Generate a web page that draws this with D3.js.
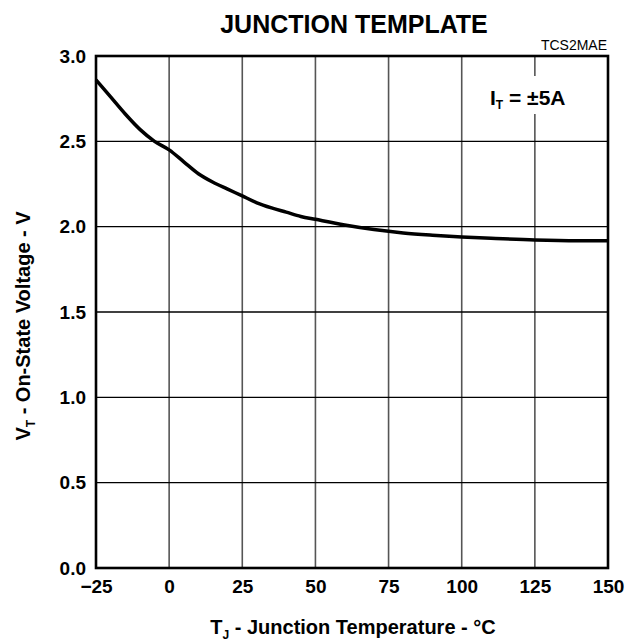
<!DOCTYPE html>
<html>
<head>
<meta charset="utf-8">
<script src="https://cdn.jsdelivr.net/npm/d3@7"></script>
<style>
  body { margin: 0; background: #fff; }
  svg text { font-family: "Liberation Sans", Arial, sans-serif; }
</style>
</head>
<body>
<div id="chart"></div>
<script>
const WIDTH = 628
const HEIGHT = 644

const temps = [-25, -20, -15, -10, -5, 0, 5, 10, 15, 20, 25, 30, 35, 40, 45, 50, 60, 70, 80, 90, 100, 110, 125, 140, 150]
const volts = [2.86, 2.76, 2.66, 2.57, 2.50, 2.45, 2.38, 2.31, 2.26, 2.22, 2.18, 2.14, 2.11, 2.085, 2.06, 2.043, 2.01, 1.983, 1.963, 1.95, 1.94, 1.932, 1.922, 1.918, 1.918]
const xTicks = [-25, 0, 25, 50, 75, 100, 125, 150]
const yTicks = [0, 0.5, 1.0, 1.5, 2.0, 2.5, 3.0]

const PLOT_L = 96, PLOT_R = 608, PLOT_T = 56, PLOT_B = 568

const svg = d3.select('#chart').append('svg')
    .attr('width', WIDTH)
    .attr('height', HEIGHT)

const x = d3.scaleLinear().domain([-25, 150]).range([PLOT_L, PLOT_R])
const y = d3.scaleLinear().domain([0, 3]).range([PLOT_B, PLOT_T])

// grid
svg.append('g').selectAll('line')
    .data(xTicks.slice(1, -1))
    .enter().append('line')
    .attr('x1', d => x(d)).attr('x2', d => x(d))
    .attr('y1', PLOT_T).attr('y2', PLOT_B)
    .attr('stroke', '#555').attr('stroke-width', 1.6)
svg.append('g').selectAll('line')
    .data(yTicks.slice(1, -1))
    .enter().append('line')
    .attr('x1', PLOT_L).attr('x2', PLOT_R)
    .attr('y1', d => y(d)).attr('y2', d => y(d))
    .attr('stroke', '#000').attr('stroke-width', 1.3)

// label box
svg.append('rect')
    .attr('x', 472).attr('y', 76).attr('width', 126).attr('height', 38)
    .attr('fill', '#fff')
const lab = svg.append('text')
    .attr('x', 490).attr('y', 105)
    .attr('font-size', 21).attr('font-weight', 'bold')
lab.append('tspan').text('I')
lab.append('tspan').attr('font-size', 12).attr('dy', 4).text('T')
lab.append('tspan').attr('dy', -4).text(' = ±5A')

// frame
svg.append('rect')
    .attr('x', PLOT_L).attr('y', PLOT_T)
    .attr('width', PLOT_R - PLOT_L).attr('height', PLOT_B - PLOT_T)
    .attr('fill', 'none').attr('stroke', '#000').attr('stroke-width', 2.6)

// curve
const line = d3.line()
    .x((d, i) => x(temps[i]))
    .y(d => y(d))
    .curve(d3.curveMonotoneX)
svg.append('path')
    .attr('d', line(volts))
    .attr('fill', 'none').attr('stroke', '#000').attr('stroke-width', 3.5)

// axes
const xAxis = svg.append('g')
    .attr('transform', `translate(0,${PLOT_B})`)
    .call(d3.axisBottom(x).tickValues(xTicks).tickSize(0).tickPadding(12).tickFormat(d3.format('d')))
const yAxis = svg.append('g')
    .attr('transform', `translate(${PLOT_L},0)`)
    .call(d3.axisLeft(y).tickValues(yTicks).tickSize(0).tickPadding(10).tickFormat(d3.format('.1f')))
;[xAxis, yAxis].forEach(a => {
    a.select('.domain').remove()
    a.selectAll('text')
        .attr('font-family', '"Liberation Sans", Arial, sans-serif')
        .attr('font-size', 19).attr('font-weight', 'bold').attr('fill', '#000')
})

// titles
svg.append('text')
    .attr('x', 354).attr('y', 33)
    .attr('text-anchor', 'middle')
    .attr('font-size', 25).attr('font-weight', 'bold')
    .text('JUNCTION TEMPLATE')
svg.append('text')
    .attr('x', 607).attr('y', 50)
    .attr('text-anchor', 'end')
    .attr('font-size', 14)
    .text('TCS2MAE')

const xt = svg.append('text')
    .attr('x', 353).attr('y', 634)
    .attr('text-anchor', 'middle')
    .attr('font-size', 20).attr('font-weight', 'bold')
xt.append('tspan').text('T')
xt.append('tspan').attr('font-size', 12).attr('dy', 5).text('J')
xt.append('tspan').attr('dy', -5).text(' - Junction Temperature - °C')

const yt = svg.append('text')
    .attr('transform', `translate(30,326) rotate(-90)`)
    .attr('text-anchor', 'middle')
    .attr('font-size', 20).attr('font-weight', 'bold')
yt.append('tspan').text('V')
yt.append('tspan').attr('font-size', 12).attr('dy', 5).text('T')
yt.append('tspan').attr('dy', -5).text(' - On-State Voltage - V')
</script>
</body>
</html>
